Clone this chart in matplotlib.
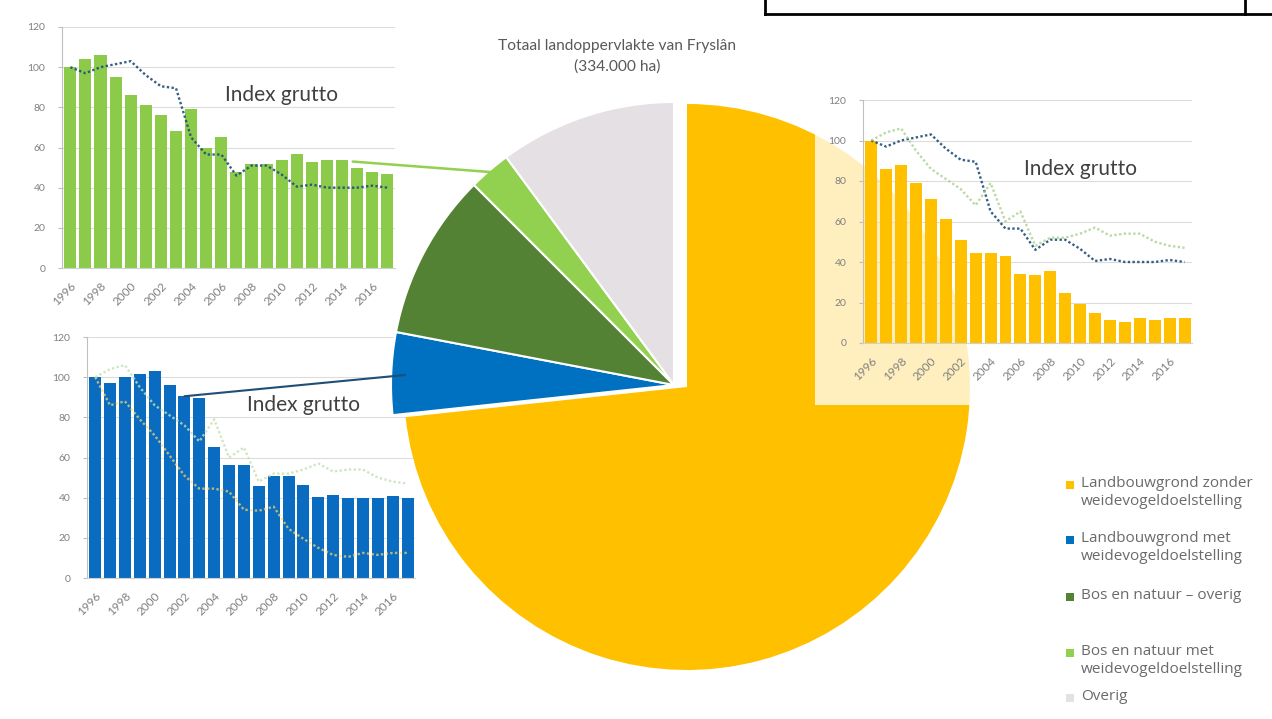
import numpy as np
import matplotlib
matplotlib.use('Agg')
import matplotlib.pyplot as plt
from matplotlib.patches import Rectangle, ConnectionPatch
from matplotlib.lines import Line2D

plt.rcParams['font.family'] = ['Lato', 'DejaVu Sans']

# data
years = np.arange(1996, 2018)
index_green = [100, 104, 106, 95, 86, 81, 76, 68, 79, 60, 65, 48, 52, 52, 54, 57, 53, 54, 54, 50, 48, 47]
index_blue = [100, 97, 100, 101.5, 103, 96, 90.5, 89.5, 65, 56.5, 56.5, 46, 51, 51, 46.5, 40.5, 41.5, 40, 40, 40, 41, 40]
index_yellow = [100, 86, 88, 79, 71, 61, 51, 44.5, 44.5, 43, 34, 33.5, 35.5, 24.5, 19.5, 15, 11.5, 10.5, 12.5, 11.5, 12.5, 12.5]

pie_labels = ['Landbouwgrond zonder\nweidevogeldoelstelling',
              'Landbouwgrond met\nweidevogeldoelstelling',
              'Bos en natuur – overig',
              'Bos en natuur met\nweidevogeldoelstelling',
              'Overig']
pie_shares = [73.3, 4.7, 9.5, 2.4, 10.1]
pie_colors = ['#FFC000', '#0070C0', '#548235', '#92D050', '#E4E0E4']

title = 'Totaal landoppervlakte van Fryslân\n(334.000 ha)'

W, H = 1272, 719
fig = plt.figure(figsize=(W / 100, H / 100), dpi=100)


def px_rect(x0, y0, x1, y1):
    return [x0 / W, 1 - y1 / H, (x1 - x0) / W, (y1 - y0) / H]


def bar_chart(rect, values, color, lines, zorder):
    ax = fig.add_axes(rect, zorder=zorder)
    ax.patch.set_alpha(0)
    ax.bar(years, values, width=0.8, color=color, zorder=2)
    for vals, c, a in lines:
        ax.plot(years, vals, color=c, ls=(0, (1, 1)), lw=1.7, alpha=a, zorder=3)
    ax.set_ylim(0, 120)
    ax.set_xlim(1995.45, 2017.5)
    ax.set_yticks(range(0, 121, 20))
    ax.set_xticks(years[::2])
    ax.set_xticklabels(years[::2], rotation=45, ha='right', rotation_mode='anchor')
    ax.grid(axis='y', color='#dcdcdc', lw=0.8, zorder=0)
    ax.tick_params(axis='both', labelcolor='#808080', color='#bfbfbf')
    ax.tick_params(axis='x', length=0, pad=9, labelsize=8.5)
    ax.tick_params(axis='y', length=3, pad=9, labelsize=7.5)
    for s in ['top', 'right']:
        ax.spines[s].set_visible(False)
    ax.spines['left'].set_color('#bfbfbf')
    ax.spines['bottom'].set_color('#d0d0d0')
    ax.text(2010, 86, 'Index grutto', ha='center', va='center', fontsize=15, color='#404040', zorder=4)
    return ax


# left charts (below the pie)
ax_green = bar_chart(px_rect(62, 27, 395, 268), index_green, '#8CCB4A',
                     [(index_blue, '#1F4E79', 0.9)], 0)
ax_blue = bar_chart(px_rect(87, 337, 415, 578), index_blue, '#0A6CC0',
                    [(index_yellow, '#FFD966', 0.7), (index_green, '#C5E0B4', 0.8)], 0)

# pie
ax_pie = fig.add_axes([0, 0, 1, 1], zorder=1)
center = (687, H - 387)
shift = (-13, 2)
wedges_a, _ = ax_pie.pie(pie_shares, colors=pie_colors, startangle=90, counterclock=False,
                         radius=283, center=center, wedgeprops=dict(linewidth=0))
wedges_b, _ = ax_pie.pie(pie_shares, colors=pie_colors, startangle=90, counterclock=False,
                         radius=283, center=(center[0] + shift[0], center[1] + shift[1]),
                         wedgeprops=dict(edgecolor='white', linewidth=1.5))
for w in wedges_a[1:]:
    w.set_visible(False)
wedges_b[0].set_visible(False)
ax_pie.set_xlim(0, W)
ax_pie.set_ylim(0, H)
ax_pie.axis('off')

# connectors from the small charts to their slices
con = ConnectionPatch(xyA=(2014.7, 53), coordsA=ax_green.transData,
                      xyB=(503, H - 173), coordsB=ax_pie.transData,
                      color='#92D050', lw=1.8, zorder=5)
fig.add_artist(con)
con = ConnectionPatch(xyA=(2002, 90.5), coordsA=ax_blue.transData,
                      xyB=(405, H - 375), coordsB=ax_pie.transData,
                      color='#1F4E79', lw=1.5, zorder=5)
fig.add_artist(con)

# pale chart background over the pie on the right
fig.add_artist(Rectangle((815 / W, 1 - 405 / H), 400 / W, 320 / H, transform=fig.transFigure,
                         facecolor='white', alpha=0.75, edgecolor='none', zorder=2))
ax_yellow = bar_chart(px_rect(863, 100, 1192, 343), index_yellow, '#FFC000',
                      [(index_blue, '#1F4E79', 0.9), (index_green, '#A9D18E', 0.8)], 3)

# title
fig.text(617 / W, 1 - 56 / H, title, ha='center', va='center', fontsize=11.2,
         color='#595959', linespacing=1.55, zorder=6)

# legend
leg_y = [485, 540, 597, 653, 698]
for lab, col, y in zip(pie_labels, pie_colors, leg_y):
    fig.add_artist(Rectangle((1066 / W, 1 - (y + 4) / H), 8 / W, 8 / H, transform=fig.transFigure,
                             facecolor=col, edgecolor='none', zorder=6))
    fig.text(1081 / W, 1 - (y - 9) / H, lab, ha='left', va='top', fontsize=11,
             family=['Open Sans', 'DejaVu Sans'], color='#6a6a6a', linespacing=1.3, zorder=6)

# piece of a table frame at the top right
for xs, ys in [([765, W], [14, 14]), ([765, 765], [0, 14]), ([1245, 1245], [0, 14])]:
    fig.add_artist(Line2D([x / W for x in xs], [1 - y / H for y in ys], color='black', lw=2, zorder=6))

fig.savefig('out.png', dpi=100)
